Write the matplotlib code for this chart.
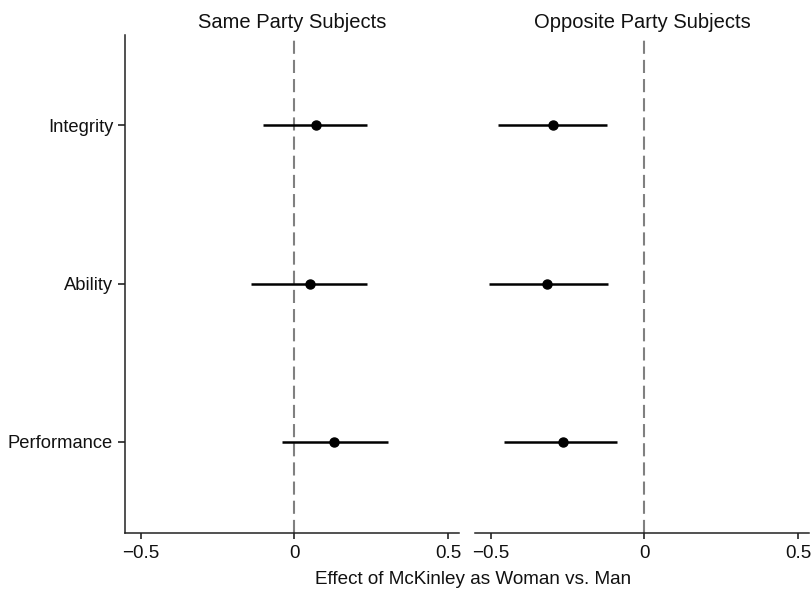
import numpy as np
import matplotlib.pyplot as plt

plt.rcParams['font.family'] = ['Liberation Sans', 'DejaVu Sans']

traits = ['Integrity', 'Ability', 'Performance']
panels = ['Same Party Subjects', 'Opposite Party Subjects']

# point estimates and 95% CI bounds
same_est = [0.070, 0.051, 0.127]
same_lo = [-0.101, -0.141, -0.039]
same_hi = [0.235, 0.235, 0.305]

opp_est = [-0.296, -0.316, -0.266]
opp_lo = [-0.476, -0.507, -0.457]
opp_hi = [-0.121, -0.119, -0.089]

xticks = [-0.5, 0, 0.5]
xticklabels = ['\u22120.5', '0', '0.5']

fig = plt.figure(figsize=(8.12, 5.89), dpi=100)
ax1 = fig.add_axes([125/812, 1-533/589, 334/812, 498/589])
ax2 = fig.add_axes([475/812, 1-533/589, 334/812, 498/589])

ypos = np.arange(1, len(traits)+1)
data = [(same_est, same_lo, same_hi), (opp_est, opp_lo, opp_hi)]

for ax, title, (est, lo, hi) in zip([ax1, ax2], panels, data):
    ax.axvline(0, ymin=0, ymax=0.992, color='#808080', lw=1.5, dashes=(6.3, 2.9))
    ax.hlines(ypos, lo, hi, color='black', lw=1.8)
    ax.plot(est, ypos, 'o', color='black', ms=6.5)
    ax.set_xlim(-0.551, 0.535)
    ax.set_ylim(3.577, 0.429)
    ax.set_title(title, fontsize=14.5, pad=5, color='#111111')
    ax.set_xticks(xticks)
    ax.set_xticklabels(xticklabels)
    ax.tick_params(axis='x', labelsize=13.5, length=4.5, width=1.1, pad=4, colors='#111111')
    for s in ['top', 'right']:
        ax.spines[s].set_visible(False)
    for s in ['left', 'bottom']:
        ax.spines[s].set_linewidth(1.1)
        ax.spines[s].set_color('#222222')

ax1.set_yticks(ypos)
ax1.set_yticklabels(traits)
ax1.tick_params(axis='y', labelsize=13.2, length=5, width=1.1, pad=3.5, colors='#111111')

ax2.spines['left'].set_visible(False)
ax2.set_yticks([])

fig.text(473/812, 1-580/589, 'Effect of McKinley as Woman vs. Man', ha='center', va='center',
         fontsize=13.6, color='#111111')

fig.savefig('out.png', dpi=100)
